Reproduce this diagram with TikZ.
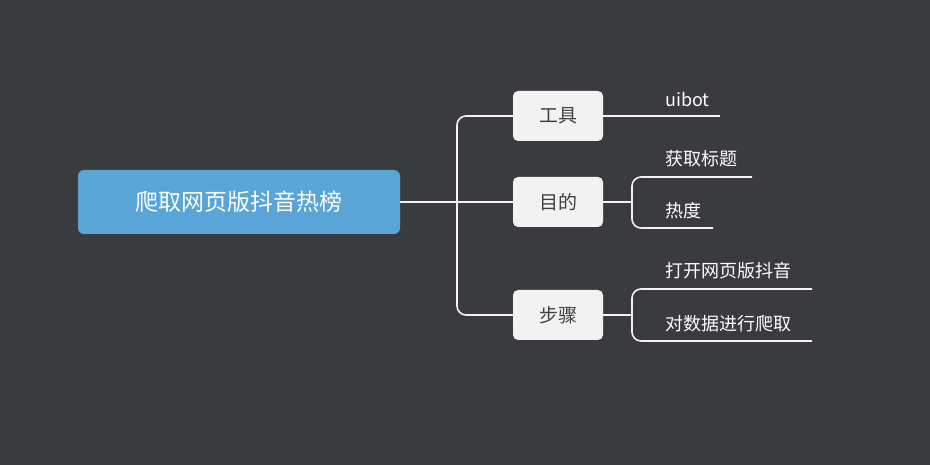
\documentclass[tikz,border=0pt]{standalone}
\usepackage{fontspec}
\newfontfamily\cjk{Noto Sans CJK SC}
\definecolor{bg}{RGB}{58,59,62}
\definecolor{rootc}{RGB}{90,165,216}
\begin{document}
\begin{tikzpicture}[x=1pt,y=-1pt,
  conn/.style={draw=white!90!gray,line width=1.6pt,rounded corners=9pt},
  branch/.style={fill=white!90!gray,rounded corners=5pt,minimum width=90pt,minimum height=50pt,font=\cjk\fontsize{19}{22}\selectfont,text=black!75},
  leaf/.style={anchor=south west,inner sep=3pt,font=\cjk\fontsize{18}{21}\selectfont,text=white}]
\fill[bg] (0,0) rectangle (930,465);
\useasboundingbox (0,0) rectangle (930,465);
\node[fill=rootc,rounded corners=6pt,minimum width=322pt,minimum height=64pt,text=white,font=\cjk\fontsize{23}{27}\selectfont] (root) at (239,202) {爬取网页版抖音热榜};
\node[branch] (tool) at (558,116) {工具};
\node[branch] (goal) at (558,202) {目的};
\node[branch] (step) at (558,315) {步骤};
\coordinate (j) at (457,202);
\draw[conn] (root.east) -- (j);
\draw[conn] (tool.west) -| (j) |- (step.west);
\draw[conn] (j) -- (goal.west);
\coordinate (t1) at (720,116);
\draw[conn] (tool.east) -- (t1);
\node[leaf] (uibot) at (662,110) {uibot};
\coordinate (g1) at (752,177);
\coordinate (g2) at (713,228);
\coordinate (gj) at (632,202);
\draw[conn] (goal.east) -- (gj);
\draw[conn] (g1) -| (gj) |- (g2);
\node[leaf] (l1) at (662,170) {获取标题};
\node[leaf] (l2) at (662,222) {热度};
\coordinate (s1) at (812,289);
\coordinate (s2) at (812,341);
\coordinate (sj) at (632,315);
\draw[conn] (step.east) -- (sj);
\draw[conn] (s1) -| (sj) |- (s2);
\node[leaf] (l3) at (662,282) {打开网页版抖音};
\node[leaf] (l4) at (662,335) {对数据进行爬取};
\end{tikzpicture}
\end{document}
